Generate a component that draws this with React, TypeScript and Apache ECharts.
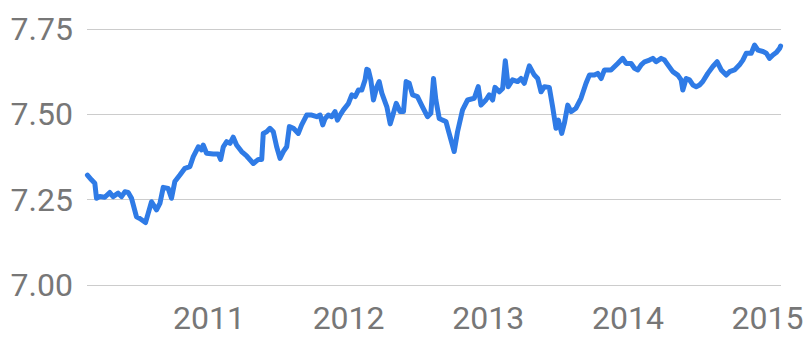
import React, { useEffect, useRef } from "react";
import * as echarts from "echarts";

// Decimal-year positions and values
const years: number[] = [
  2010.130, 2010.159, 2010.183, 2010.195, 2010.219, 2010.254, 2010.290, 2010.314, 2010.350, 2010.374,
  2010.398, 2010.422, 2010.446, 2010.481, 2010.505, 2010.546, 2010.565, 2010.589, 2010.625, 2010.649,
  2010.673, 2010.708, 2010.732, 2010.756, 2010.792, 2010.828, 2010.864, 2010.888, 2010.924, 2010.947,
  2010.959, 2010.983, 2011.031, 2011.067, 2011.084, 2011.103, 2011.127, 2011.151, 2011.174, 2011.198,
  2011.234, 2011.270, 2011.318, 2011.354, 2011.378, 2011.389, 2011.413, 2011.437, 2011.461, 2011.485,
  2011.509, 2011.533, 2011.557, 2011.576, 2011.605, 2011.640, 2011.664, 2011.700, 2011.736, 2011.772,
  2011.796, 2011.815, 2011.832, 2011.855, 2011.879, 2011.903, 2011.920, 2011.939, 2011.963, 2011.999,
  2012.023, 2012.047, 2012.070, 2012.094, 2012.118, 2012.130, 2012.142, 2012.159, 2012.178, 2012.202,
  2012.219, 2012.238, 2012.274, 2012.298, 2012.317, 2012.341, 2012.369, 2012.393, 2012.412, 2012.434,
  2012.458, 2012.493, 2012.529, 2012.565, 2012.589, 2012.608, 2012.625, 2012.649, 2012.673, 2012.697,
  2012.720, 2012.756, 2012.780, 2012.816, 2012.852, 2012.900, 2012.928, 2012.948, 2012.983, 2013.007,
  2013.031, 2013.048, 2013.079, 2013.103, 2013.122, 2013.143, 2013.174, 2013.210, 2013.234, 2013.258,
  2013.294, 2013.330, 2013.354, 2013.378, 2013.402, 2013.437, 2013.461, 2013.485, 2013.502, 2013.526,
  2013.545, 2013.569, 2013.593, 2013.628, 2013.664, 2013.700, 2013.724, 2013.760, 2013.784, 2013.808,
  2013.832, 2013.879, 2013.927, 2013.963, 2013.987, 2014.023, 2014.047, 2014.071, 2014.095, 2014.119,
  2014.154, 2014.178, 2014.202, 2014.238, 2014.262, 2014.286, 2014.321, 2014.357, 2014.381, 2014.393,
  2014.417, 2014.441, 2014.465, 2014.489, 2014.513, 2014.536, 2014.572, 2014.608, 2014.639, 2014.668,
  2014.704, 2014.728, 2014.763, 2014.799, 2014.823, 2014.847, 2014.883, 2014.907, 2014.931, 2014.967,
  2014.991, 2015.014, 2015.038, 2015.062, 2015.086, 2015.093,
];

const values: number[] = [
  7.322, 7.308, 7.298, 7.254, 7.259, 7.257, 7.271, 7.259, 7.269, 7.259,
  7.273, 7.271, 7.254, 7.200, 7.195, 7.183, 7.210, 7.244, 7.220, 7.239,
  7.286, 7.283, 7.254, 7.303, 7.322, 7.342, 7.347, 7.376, 7.405, 7.396,
  7.410, 7.386, 7.384, 7.384, 7.368, 7.405, 7.420, 7.415, 7.433, 7.410,
  7.391, 7.378, 7.356, 7.368, 7.368, 7.444, 7.449, 7.459, 7.449, 7.405,
  7.371, 7.391, 7.405, 7.464, 7.459, 7.444, 7.469, 7.498, 7.498, 7.493,
  7.498, 7.469, 7.488, 7.498, 7.493, 7.508, 7.483, 7.498, 7.513, 7.532,
  7.557, 7.552, 7.571, 7.571, 7.601, 7.632, 7.630, 7.601, 7.542, 7.581,
  7.596, 7.562, 7.522, 7.472, 7.498, 7.532, 7.508, 7.508, 7.596, 7.591,
  7.557, 7.552, 7.522, 7.493, 7.503, 7.605, 7.542, 7.488, 7.483, 7.479,
  7.444, 7.391, 7.449, 7.513, 7.542, 7.547, 7.581, 7.527, 7.542, 7.557,
  7.542, 7.579, 7.566, 7.576, 7.657, 7.581, 7.601, 7.596, 7.605, 7.591,
  7.642, 7.615, 7.605, 7.566, 7.581, 7.579, 7.522, 7.459, 7.483, 7.444,
  7.474, 7.527, 7.508, 7.518, 7.547, 7.591, 7.615, 7.615, 7.620, 7.605,
  7.630, 7.630, 7.649, 7.664, 7.649, 7.649, 7.635, 7.630, 7.645, 7.654,
  7.659, 7.664, 7.654, 7.664, 7.659, 7.645, 7.625, 7.615, 7.601, 7.571,
  7.605, 7.601, 7.586, 7.581, 7.586, 7.596, 7.620, 7.640, 7.654, 7.630,
  7.615, 7.625, 7.630, 7.645, 7.659, 7.679, 7.679, 7.703, 7.688, 7.684,
  7.679, 7.664, 7.674, 7.681, 7.693, 7.700,
];

const yearTicks: number[] = [2011, 2012, 2013, 2014, 2015];
const yTicks: number[] = [7.0, 7.25, 7.5, 7.75];

export default function App() {
  const ref = useRef<HTMLDivElement>(null);

  useEffect(() => {
    if (!ref.current) return;
    const chart = echarts.init(ref.current, undefined, { renderer: "svg" });
    const data = years.map((y, i) => [y, values[i]]);
    chart.setOption({
      animation: false,
      grid: { left: 87, right: 27, top: 29, bottom: 53, containLabel: false },
      xAxis: {
        type: "value",
        min: 2010.127,
        max: 2015.096,
        axisLine: { show: false },
        axisTick: { show: false },
        splitLine: { show: false },
        axisLabel: {
          show: true,
          margin: 17,
          color: "#777777",
          fontSize: 32,
          fontFamily: "Roboto, sans-serif",
          showMinLabel: false,
          showMaxLabel: false,
          formatter: (v: number) =>
            yearTicks.some((t) => Math.abs(t - v) < 1e-6) ? String(Math.round(v)) : "",
        },
      },
      yAxis: {
        type: "value",
        min: yTicks[0],
        max: yTicks[yTicks.length - 1],
        interval: 0.25,
        axisLine: { show: false },
        axisTick: { show: false },
        splitLine: { show: true, lineStyle: { color: "#cccccc", width: 1.2 } },
        axisLabel: {
          margin: 14,
          color: "#777777",
          fontSize: 32,
          fontFamily: "Roboto, sans-serif",
          formatter: (v: number) => v.toFixed(2),
        },
      },
      series: [
        {
          type: "line",
          data,
          showSymbol: false,
          symbol: "none",
          lineStyle: { color: "#2f7be6", width: 5, join: "round", cap: "round" },
        },
      ],
    });
    return () => chart.dispose();
  }, []);

  return (
    <div
      ref={ref}
      style={{ position: "absolute", left: 0, top: 0, width: 808, height: 338, background: "#fff" }}
    />
  );
}
